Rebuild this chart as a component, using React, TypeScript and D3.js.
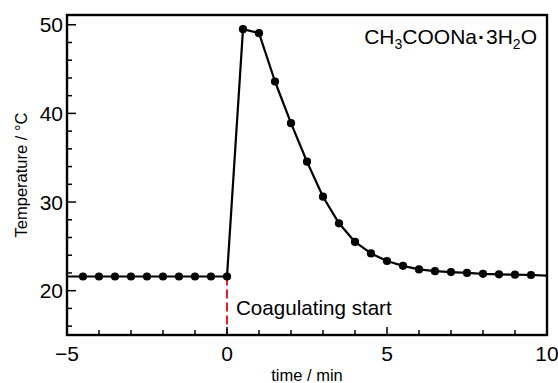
import React from "react";
import * as d3 from "d3";

const preTimes = [-4.5, -4, -3.5, -3, -2.5, -2, -1.5, -1, -0.5, 0];
const preTemps = [21.6, 21.6, 21.6, 21.6, 21.6, 21.6, 21.6, 21.6, 21.6, 21.6];
const postTimes = [0.5, 1, 1.5, 2, 2.5, 3, 3.5, 4, 4.5, 5, 5.5, 6, 6.5, 7, 7.5, 8, 8.5, 9, 9.5];
const postTemps = [49.5, 49.05, 43.6, 38.9, 34.55, 30.6, 27.6, 25.5, 24.2, 23.35, 22.8, 22.4, 22.2, 22.1, 22.0, 21.9, 21.85, 21.8, 21.77];
const lineStart = { t: -5, v: 21.6 };
const lineEnd = { t: 10, v: 21.7 };
const xMajorTicks = [-5, 0, 5, 10];
const xMinorTicks = [-4, -3, -2, -1, 1, 2, 3, 4, 6, 7, 8, 9];
const yMajorTicks = [20, 30, 40, 50];
const yMinorTicks = [16, 18, 22, 24, 26, 28, 32, 34, 36, 38, 42, 44, 46, 48];
const startTime = 0;

const W = 558, H = 383;
const L = 67, R = 547, T = 15, B = 335;
const FONT = "'Liberation Sans', Arial, Helvetica, sans-serif";

export default function App() {
  const x = d3.scaleLinear().domain([-5, 10]).range([L, R]);
  const y = d3.scaleLinear().domain([15, 51.1]).range([B, T]);

  const pts = [
    lineStart,
    ...preTimes.map((t, i) => ({ t, v: preTemps[i] })),
    ...postTimes.map((t, i) => ({ t, v: postTemps[i] })),
    lineEnd,
  ];
  const markers = [
    ...preTimes.map((t, i) => ({ t, v: preTemps[i] })),
    ...postTimes.map((t, i) => ({ t, v: postTemps[i] })),
  ];
  const line = d3.line<{ t: number; v: number }>().x((d) => x(d.t)).y((d) => y(d.v));
  const fmt = (v: number) => (v < 0 ? "\u2212" + Math.abs(v) : String(v));
  const startTemp = preTemps[preTemps.length - 1];

  return (
    <svg width={W} height={H} style={{ position: "absolute", left: 0, top: 0 }} fontFamily={FONT}>
      <rect width={W} height={H} fill="#fff" />
      <line x1={x(startTime)} x2={x(startTime)} y1={y(startTemp)} y2={B} stroke="#ee1c25" strokeWidth={2} strokeDasharray="9,4" />
      <path d={line(pts) || ""} fill="none" stroke="#000" strokeWidth={2.2} strokeLinejoin="round" />
      {markers.map((d, i) => (
        <circle key={i} cx={x(d.t)} cy={y(d.v)} r={4.1} fill="#000" />
      ))}
      {yMajorTicks.map((v) => (
        <line key={"ym" + v} x1={L} x2={L + 9} y1={y(v)} y2={y(v)} stroke="#000" strokeWidth={1.5} />
      ))}
      {yMinorTicks.map((v) => (
        <line key={"yn" + v} x1={L} x2={L + 5} y1={y(v)} y2={y(v)} stroke="#000" strokeWidth={1.5} />
      ))}
      {xMajorTicks.map((v) => (
        <line key={"xm" + v} x1={x(v)} x2={x(v)} y1={B} y2={B - 8} stroke="#000" strokeWidth={1.5} />
      ))}
      {xMinorTicks.map((v) => (
        <line key={"xn" + v} x1={x(v)} x2={x(v)} y1={B} y2={B - 5} stroke="#000" strokeWidth={1.5} />
      ))}
      <rect x={L} y={T} width={R - L} height={B - T} fill="none" stroke="#000" strokeWidth={2.4} />
      {yMajorTicks.map((v) => (
        <text key={"yl" + v} x={L - 4} y={y(v)} dy="0.36em" textAnchor="end" fontSize={21} fill="#000">
          {fmt(v)}
        </text>
      ))}
      {xMajorTicks.map((v) => (
        <text key={"xl" + v} x={x(v)} y={361} textAnchor="middle" fontSize={21} fill="#000">
          {fmt(v)}
        </text>
      ))}
      <text x={(L + R) / 2} y={381} textAnchor="middle" fontSize={16.5} fill="#000">time / min</text>
      <text transform={`translate(27,${(T + B) / 2}) rotate(-90)`} textAnchor="middle" fontSize={16.5} fill="#000">
        Temperature / °C
      </text>
      <text x={x(startTime) + 9} y={315} fontSize={20.6} fill="#000">Coagulating start</text>
      <text x={537} y={43.5} textAnchor="end" fontSize={21} fill="#000">
        CH<tspan fontSize={14} dy={5}>3</tspan>
        <tspan dy={-5}>COONa</tspan>
        <tspan dx={1} fontWeight="bold">·</tspan>
        <tspan dx={1}>3H</tspan>
        <tspan fontSize={14} dy={5}>2</tspan>
        <tspan dy={-5}>O</tspan>
      </text>
    </svg>
  );
}
